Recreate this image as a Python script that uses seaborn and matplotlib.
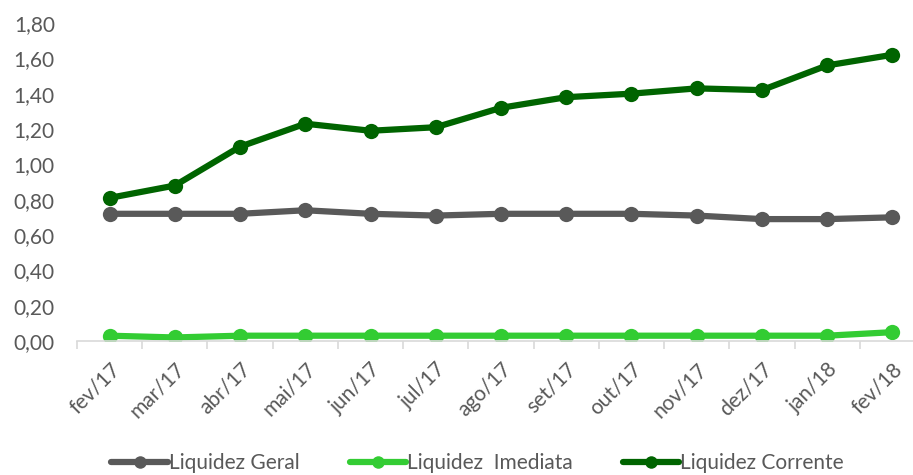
import matplotlib
matplotlib.use("Agg")
import matplotlib.pyplot as plt
import seaborn as sns
import pandas as pd
from matplotlib.lines import Line2D
from matplotlib.ticker import FuncFormatter

categories = ["fev/17", "mar/17", "abr/17", "mai/17", "jun/17", "jul/17", "ago/17",
              "set/17", "out/17", "nov/17", "dez/17", "jan/18", "fev/18"]
liq_geral = [0.72, 0.72, 0.72, 0.74, 0.72, 0.71, 0.72, 0.72, 0.72, 0.71, 0.69, 0.69, 0.70]
liq_imediata = [0.03, 0.02, 0.03, 0.03, 0.03, 0.03, 0.03, 0.03, 0.03, 0.03, 0.03, 0.03, 0.05]
liq_corrente = [0.81, 0.88, 1.10, 1.23, 1.19, 1.21, 1.32, 1.38, 1.40, 1.43, 1.42, 1.56, 1.62]
series_names = ["Liquidez Geral", "Liquidez  Imediata", "Liquidez Corrente"]
colors = ["#595959", "#33CC33", "#006400"]

rows = []
for name, vals in zip(series_names, [liq_geral, liq_imediata, liq_corrente]):
    for i, (c, v) in enumerate(zip(categories, vals)):
        rows.append({"idx": i, "mes": c, "serie": name, "valor": v})
df = pd.DataFrame(rows)

sns.set_style("white")
plt.rcParams["font.family"] = ["Lato", "DejaVu Sans"]

fig = plt.figure(figsize=(9.13, 4.75), dpi=100)
ax = fig.add_axes([77 / 913, (475 - 341) / 475, (925 - 77) / 913, (341 - 23) / 475])

sns.lineplot(data=df, x="idx", y="valor", hue="serie", hue_order=series_names,
             palette=colors, marker="o", markersize=11, markeredgewidth=0,
             linewidth=4.5, sort=False, legend=False, ax=ax)

ax.set_xlim(-0.5, 12.5)
ax.set_ylim(0, 1.8)
ax.set_yticks([i * 0.2 for i in range(10)])
ax.yaxis.set_major_formatter(FuncFormatter(lambda v, p: f"{v:.2f}".replace(".", ",")))
ax.set_xticks(range(len(categories)))
ax.set_xticklabels(categories, rotation=45, ha="right", rotation_mode="anchor")
ax.set_xticks([i - 0.5 for i in range(len(categories) + 1)], minor=True)
ax.set_xlabel("")
ax.set_ylabel("")

for s in ["top", "right", "left"]:
    ax.spines[s].set_visible(False)
ax.spines["bottom"].set_color("#d9d9d9")
ax.spines["bottom"].set_linewidth(1.2)

ax.tick_params(axis="x", which="major", length=0, pad=13, labelsize=15, labelcolor="#595959")
ax.tick_params(axis="x", which="minor", length=6, width=1.2, color="#d9d9d9", bottom=True)
ax.tick_params(axis="y", length=0, pad=16, labelsize=15, labelcolor="#595959")

handles = [Line2D([0], [0], color=c, linewidth=4.5, marker="o", markersize=9, markeredgewidth=0)
           for c in colors]
leg = fig.legend(handles, series_names, loc="center", bbox_to_anchor=(0.523, (475 - 463) / 475),
                 ncol=3, frameon=False, fontsize=15, handlelength=2.7, handletextpad=0.05,
                 columnspacing=2.4, labelcolor="#595959")

fig.savefig("out.png", dpi=100)
